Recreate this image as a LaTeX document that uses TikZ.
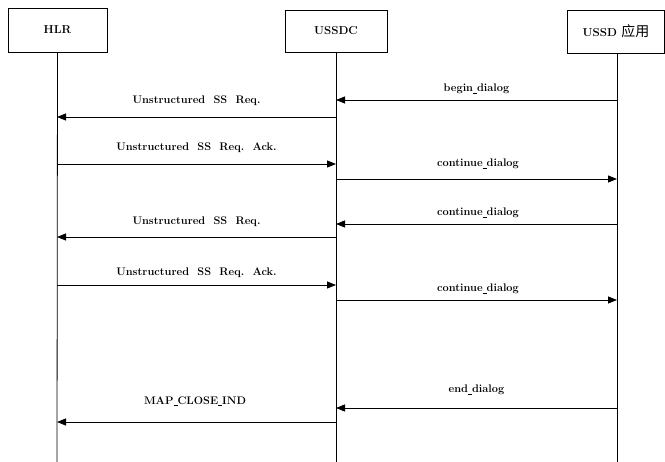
\documentclass[tikz,border=0pt]{standalone}
\usepackage{fontspec}
\newfontfamily\cjk{Noto Sans CJK SC}
\usetikzlibrary{arrows.meta}
\newcommand\myus{\rule[-1.6pt]{4pt}{0.5pt}}
\begin{document}
\begin{tikzpicture}[x=1pt,y=-1pt,
  entity/.style={draw,line width=0.9pt,inner sep=0pt,font=\fontsize{11.5}{13}\selectfont\bfseries},
  life/.style={line width=0.8pt},
  msg/.style={line width=0.8pt,-{Triangle[length=9pt,width=7pt]}},
  lbl/.style={inner sep=0pt,font=\fontsize{11}{12}\selectfont\bfseries}]
\useasboundingbox (0,0) rectangle (665,462);
% entities
\node[entity,minimum width=99pt,minimum height=44pt] (hlr) at (57.5,30) {HLR};
\node[entity,minimum width=102pt,minimum height=42pt] (ussdc) at (336,31) {USSDC};
\node[entity,minimum width=97pt,minimum height=43pt] (app) at (616,31.5) {USSD {\cjk\fontsize{14}{16}\selectfont\mdseries 应用}};
% lifeline ends
\coordinate (hb) at (57,462);
\coordinate (ub) at (336,462);
\coordinate (ab) at (617,462);
\draw[life] (hlr.south) -- (hb);
\draw[life] (ussdc.south) -- (ub);
\draw[life] (app.south -| ab) -- (ab);
% message anchors
\foreach \n/\y in {1/100,2/117,3/164,4/179,5/224,6/237,7/285,8/300,9/408,10/422}{
  \coordinate (h\n) at (57,\y);
  \coordinate (u\n) at (336,\y);
  \coordinate (a\n) at (617,\y);
}
% messages
\draw[msg] (a1) -- (u1);
\node[lbl] (l1) at (476.5,89) {begin\myus dialog};
\draw[msg] (u2) -- (h2);
\node[lbl] (l2) at (196.5,101) {Unstructured\ \ SS\ \ Req.};
\draw[msg] (h3) -- (u3);
\node[lbl] (l3) at (196.5,148) {Unstructured\ \ SS\ \ Req.\ \ Ack.};
\draw[msg] (u4) -- (a4);
\node[lbl] (l4) at (478,164) {continue\myus dialog};
\draw[msg] (a5) -- (u5);
\node[lbl] (l5) at (478,213) {continue\myus dialog};
\draw[msg] (u6) -- (h6);
\node[lbl] (l6) at (196.5,222) {Unstructured\ \ SS\ \ Req.};
\draw[msg] (h7) -- (u7);
\node[lbl] (l7) at (196.5,273) {Unstructured\ \ SS\ \ Req.\ \ Ack.};
\draw[msg] (u8) -- (a8);
\node[lbl] (l8) at (478,289) {continue\myus dialog};
\draw[msg] (a9) -- (u9);
\node[lbl] (l9) at (476.5,390) {end\myus dialog};
\draw[msg] (u10) -- (h10);
\node[lbl] (l10) at (195,401) {MAP\myus CLOSE\myus IND};
\end{tikzpicture}
\end{document}
